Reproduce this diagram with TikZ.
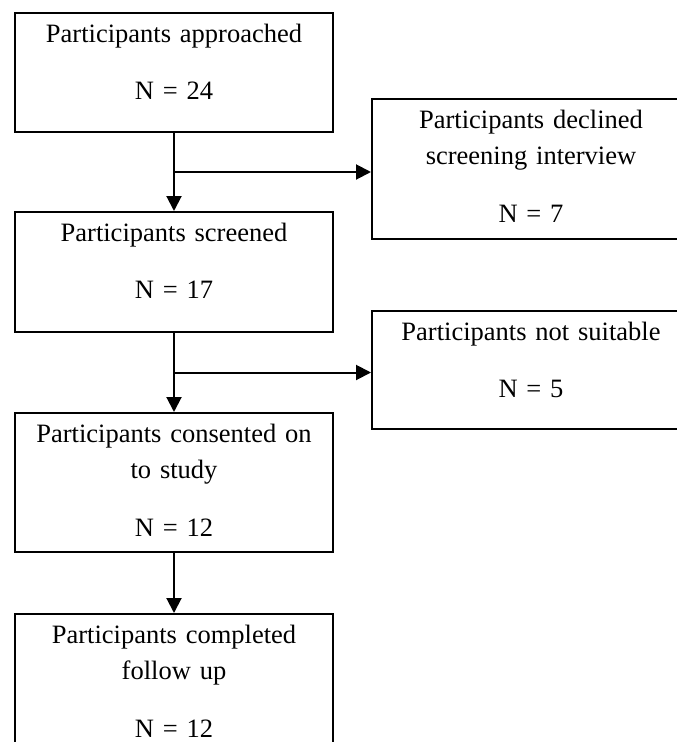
\documentclass[tikz,border=0pt]{standalone}
\usepackage{fontspec}
\setmainfont{Liberation Serif}
\usepackage{tikz}
\usetikzlibrary{arrows.meta,positioning,calc}

\begin{document}
\begin{tikzpicture}[
        x=1pt, y=-1pt,
        every node/.style={font=\fontsize{26.5}{36.5}\selectfont},
        box/.style={rectangle, draw, line width=2pt, inner sep=0pt, minimum width=318pt, text width=318pt, align=center, text height=29pt},
        flow/.style={-{Triangle[length=15pt,width=15pt]}, line width=2pt}
    ]
        \clip (0,0) rectangle (677,742);

        % Main column
        \node[box, anchor=north west, text depth=90pt] (approached) at (14,12) {Participants approached\\[21pt]N = 24};
        \node[box, below=78pt of approached, text depth=91pt] (screened) {Participants screened\\[21pt]N = 17};
        \node[box, below=79pt of screened, text depth=110pt] (consented) {Participants consented on\\to study\\[21pt]N = 12};
        \node[box, below=60pt of consented, text depth=131pt] (completed) {Participants completed\\follow up\\[21pt]N = 12};

        % Exclusions
        \node[box, anchor=north west, text depth=111pt] (declined) at (371,98) {Participants declined\\screening interview\\[21pt]N = 7};
        \node[box, anchor=north west, text depth=89pt] (unsuitable) at (371,310) {Participants not suitable\\[21pt]N = 5};

        % Arrows
        \draw[flow] (approached) -- (screened);
        \draw[flow] (screened) -- (consented);
        \draw[flow] (consented) -- (completed);
        \coordinate (split1) at ($(approached.south)!0.5!(screened.north)$);
        \coordinate (split2) at ($(screened.south)!0.5!(consented.north)$);
        \draw[flow] (split1) -- (split1 -| declined.west);
        \draw[flow] (split2) -- (split2 -| unsuitable.west);
    \end{tikzpicture}
\end{document}
